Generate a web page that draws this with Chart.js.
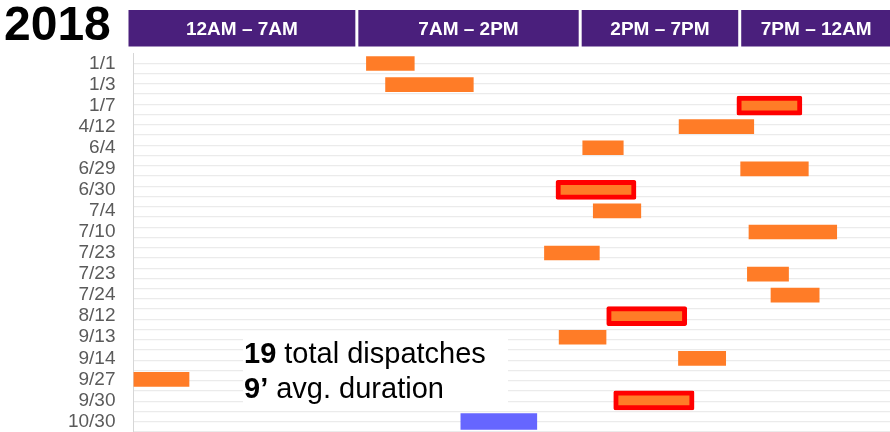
<!DOCTYPE html>
<html>
<head>
<meta charset="utf-8">
<script src="https://cdn.jsdelivr.net/npm/chart.js@4/dist/chart.umd.min.js"></script>
<style>
  html, body { margin: 0; padding: 0; background: #fff; overflow: hidden; }
  #wrap { position: relative; width: 890px; height: 432px; }
</style>
</head>
<body>
<div id="wrap"><canvas id="c" width="890" height="432"></canvas></div>
<script>
// Dispatch dates (one row each)
const rows = ['1/1','1/3','1/7','4/12','6/4','6/29','6/30','7/4','7/10','7/23','7/23','7/24','8/12','9/13','9/14','9/27','9/30','10/30'];

// Start / end of each dispatch, in hours after midnight
const regularStart = [7.3, 7.9, null, 17.1, 14.08, 19.03, null, 14.41, 19.29, 12.88, 19.24, 19.98, null, 13.34, 17.08, 0.0, null, null];
const regularEnd   = [8.8, 10.65, null, 19.44, 15.35, 21.15, null, 15.9, 22.04, 14.6, 20.53, 21.49, null, 14.81, 18.56, 1.74, null, null];
const flaggedStart = [null, null, 18.91, null, null, null, 13.24, null, null, null, null, null, 14.83, null, null, null, 15.05, null];
const flaggedEnd   = [null, null, 20.95, null, null, null, 15.75, null, null, null, null, null, 17.34, null, null, null, 17.57, null];
const otherStart   = [null, null, null, null, null, null, null, null, null, null, null, null, null, null, null, null, null, 10.26];
const otherEnd     = [null, null, null, null, null, null, null, null, null, null, null, null, null, null, null, null, null, 12.64];

// Time-of-day blocks shown in the header band
const blockLabels = ['12AM – 7AM', '7AM – 2PM', '2PM – 7PM', '7PM – 12AM'];
const blockEdges  = [0, 7, 14, 19, 24];

const yearLabel = '2018';
const totalDispatches = 19;
const avgDuration = 9;

// The right edge of the plot sits just short of midnight
const hourMax = 23.71;

function pairs(s, e) {
  return s.map((v, i) => (v === null ? null : [v, e[i]]));
}

const ORANGE = '#ff7c27';
const FONT = '"Liberation Sans", Arial, sans-serif';

const headerPlugin = {
  id: 'headerBand',
  afterDraw(chart) {
    const { ctx, scales: { x }, chartArea } = chart;
    ctx.save();
    // year
    ctx.fillStyle = '#000';
    ctx.font = 'bold 48px ' + FONT;
    ctx.textAlign = 'left';
    ctx.textBaseline = 'alphabetic';
    ctx.fillText(yearLabel, 4, 40);
    // header blocks
    const top = 10, bottom = 46.5, gap = 3;
    for (let i = 0; i < blockLabels.length; i++) {
      const l = i === 0 ? chartArea.left - 5 : x.getPixelForValue(blockEdges[i]) + gap / 2;
      const r = i === blockLabels.length - 1 ? chart.width + 2 : x.getPixelForValue(blockEdges[i + 1]) - gap / 2;
      ctx.fillStyle = '#4a1f7c';
      ctx.fillRect(l, top, r - l, bottom - top);
      ctx.fillStyle = '#ffffff';
      ctx.font = 'bold 19px ' + FONT;
      ctx.textAlign = 'center';
      ctx.textBaseline = 'middle';
      const cx = i === blockLabels.length - 1 ? (l + x.getPixelForValue(24)) / 2 - 4 : (l + r) / 2;
      ctx.fillText(blockLabels[i], cx, 29.5);
    }
    ctx.restore();
  },
  afterDatasetsDraw(chart) {
    const { ctx } = chart;
    ctx.save();
    // summary box
    ctx.fillStyle = '#ffffff';
    ctx.fillRect(243, 334, 265, 71);
    ctx.fillStyle = '#000';
    ctx.textAlign = 'left';
    ctx.textBaseline = 'alphabetic';
    ctx.font = 'bold 29px ' + FONT;
    const n = String(totalDispatches);
    ctx.fillText(n, 244, 362.5);
    let w = ctx.measureText(n).width;
    ctx.font = '29px ' + FONT;
    ctx.fillText(' total dispatches', 244 + w, 362.5);
    ctx.font = 'bold 29px ' + FONT;
    const d = avgDuration + '’';
    ctx.fillText(d, 244, 398);
    w = ctx.measureText(d).width;
    ctx.font = '29px ' + FONT;
    ctx.fillText(' avg. duration', 244 + w, 398);
    ctx.restore();
  }
};

new Chart(document.getElementById('c'), {
  type: 'bar',
  data: {
    labels: rows,
    datasets: [
      {
        label: 'Dispatch',
        data: pairs(regularStart, regularEnd),
        backgroundColor: ORANGE,
        borderWidth: 0,
        barThickness: 14,
        grouped: false
      },
      {
        label: 'Flagged dispatch',
        data: pairs(flaggedStart, flaggedEnd),
        backgroundColor: ORANGE,
        borderColor: '#ff0000',
        borderWidth: 5,
        borderSkipped: false,
        borderRadius: 2,
        barThickness: 19,
        grouped: false
      },
      {
        label: 'Other dispatch',
        data: pairs(otherStart, otherEnd),
        backgroundColor: '#6666ff',
        borderWidth: 0,
        barThickness: 16,
        grouped: false
      }
    ]
  },
  options: {
    indexAxis: 'y',
    responsive: false,
    animation: false,
    layout: { padding: { top: 53, bottom: 0, left: 0, right: 0 } },
    plugins: { legend: { display: false }, tooltip: { enabled: false }, title: { display: false } },
    scales: {
      x: {
        type: 'linear',
        min: 0,
        max: hourMax,
        display: false
      },
      y: {
        type: 'category',
        offset: true,
        grid: { display: false, drawTicks: false },
        border: { display: true, color: '#d6d6d6', width: 1 },
        ticks: {
          color: '#5a5a5a',
          font: { family: FONT, size: 19 },
          padding: 18,
          autoSkip: false
        },
        afterFit(scale) {
          scale.width = 133.5;
          scale.paddingTop = 0;
          scale.paddingBottom = 0;
        }
      },
      yGrid: {
        type: 'linear',
        position: 'right',
        reverse: true,
        min: -0.5,
        max: rows.length - 0.5,
        afterBuildTicks(scale) {
          const t = [];
          for (let v = -0.5; v <= rows.length - 0.5 + 1e-6; v += 0.5) t.push({ value: v });
          scale.ticks = t;
        },
        grid: {
          drawTicks: false,
          color: (c) => (c.tick && c.tick.value === -0.5 ? 'rgba(0,0,0,0)' : '#ebebeb'),
          lineWidth: 1.2
        },
        border: { display: false },
        ticks: { display: false },
        afterFit(scale) {
          scale.width = 0;
          scale.paddingTop = 0;
          scale.paddingBottom = 0;
        }
      }
    }
  },
  plugins: [headerPlugin]
});
</script>
</body>
</html>
